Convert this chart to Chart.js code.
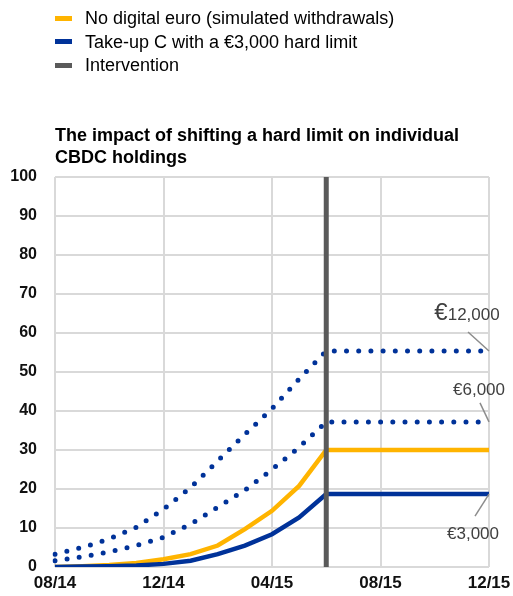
<!DOCTYPE html>
<html>
<head>
<meta charset="utf-8">
<script src="https://cdn.jsdelivr.net/npm/chart.js@4"></script>
<style>
  body { margin: 0; background: #fff; font-family: "Liberation Sans", Arial, sans-serif; }
  #wrap { position: relative; width: 513px; height: 596px; }
  #legend { position: absolute; left: 55px; top: 7px; font-size: 18px; color: #000; }
  .item { height: 23.5px; line-height: 23.5px; white-space: nowrap; }
  .mark { display: inline-block; width: 17px; height: 5px; vertical-align: middle; margin-right: 13px; position: relative; top: -1px; }
  #title { position: absolute; left: 55px; top: 124px; font-size: 18px; font-weight: bold; line-height: 22px; color: #000; }
  canvas { position: absolute; left: 0; top: 0; }
</style>
</head>
<body>
<div id="wrap">
  <canvas id="chart" width="513" height="596"></canvas>
  <div id="legend"></div>
  <div id="title">The impact of shifting a hard limit on individual<br>CBDC holdings</div>
</div>
<script>
// monthly labels 08/14 .. 12/15
var months = ['08/14','09/14','10/14','11/14','12/14','01/15','02/15','03/15','04/15',
              '05/15','06/15','07/15','08/15','09/15','10/15','11/15','12/15'];
var yTicks = [0, 10, 20, 30, 40, 50, 60, 70, 80, 90, 100];

// series values
var noDigitalEuro = [0, 0.2, 0.5, 1.0, 2.0, 3.3, 5.5, 9.7, 14.4, 20.8, 30, 30, 30, 30, 30, 30, 30];
var limit3000     = [0, 0.1, 0.2, 0.4, 0.8, 1.6, 3.3, 5.5, 8.4, 12.7, 18.7, 18.7, 18.7, 18.7, 18.7, 18.7, 18.7];
var limit6000     = [1.6, 2.6, 3.9, 5.5, 7.6, 11, 15.3, 19.7, 25, 30.7, 37.2, 37.2, 37.2, 37.2, 37.2, 37.2, 37.2];
var limit12000    = [3.3, 5, 7.2, 10.2, 14.8, 20.4, 27.2, 34, 40.6, 48.2, 55.4, 55.4, 55.4, 55.4, 55.4, 55.4, 55.4];
var interventionMonth = '06/15';

var legendItems = [
  { text: 'No digital euro (simulated withdrawals)', color: '#ffb400' },
  { text: 'Take-up C with a \u20ac3,000 hard limit', color: '#003299' },
  { text: 'Intervention', color: '#5a5a5a' }
];

var endLabels = [
  { text: '12,000', euroBig: true, value: limit12000[16], tx: -22, ty: -37, lx: -21, ly: -19 },
  { text: '\u20ac6,000', value: limit6000[16], tx: -10, ty: -32, lx: -9, ly: -19 },
  { text: '\u20ac3,000', value: limit3000[16], tx: -16, ty: 40, lx: -14, ly: 22 }
];

var lg = document.getElementById('legend');
legendItems.forEach(function (it) {
  var d = document.createElement('div');
  d.className = 'item';
  d.innerHTML = '<span class="mark" style="background:' + it.color + '"></span>' + it.text;
  lg.appendChild(d);
});

var endLabelPlugin = {
  id: 'endLabels',
  afterDatasetsDraw: function (chart) {
    var c = chart.ctx, xs = chart.scales.x, ys = chart.scales.y;
    var px = xs.getPixelForValue(months.length - 1);
    c.save();
    endLabels.forEach(function (l) {
      var py = ys.getPixelForValue(l.value);
      c.strokeStyle = '#8c8c8c';
      c.lineWidth = 1.5;
      c.beginPath();
      c.moveTo(px, py);
      c.lineTo(px + l.lx, py + l.ly);
      c.stroke();
      c.fillStyle = '#404040';
      c.textBaseline = 'middle';
      if (l.euroBig) {
        c.font = '24px "Liberation Sans", Arial';
        var ew = c.measureText('\u20ac').width;
        c.font = '17px "Liberation Sans", Arial';
        var tw = c.measureText(l.text).width;
        var x0 = px + l.tx - (ew + tw) / 2;
        c.textAlign = 'left';
        c.font = '24px "Liberation Sans", Arial';
        c.fillText('\u20ac', x0, py + l.ty - 1);
        c.font = '17px "Liberation Sans", Arial';
        c.fillText(l.text, x0 + ew, py + l.ty + 1);
      } else {
        c.font = '17px "Liberation Sans", Arial';
        c.textAlign = 'center';
        c.fillText(l.text, px + l.tx, py + l.ty);
      }
    });
    c.restore();
  }
};

var ctx = document.getElementById('chart');
var chart = new Chart(ctx, {
  type: 'line',
  data: {
    labels: months,
    datasets: [
      {
        label: 'Intervention',
        data: [{ x: interventionMonth, y: 0 }, { x: interventionMonth, y: 100 }],
        borderColor: '#5a5a5a',
        borderWidth: 5,
        pointRadius: 0,
        order: 0
      },
      {
        label: '\u20ac12,000',
        data: limit12000,
        borderColor: '#003299',
        borderWidth: 5,
        borderDash: [0, 12.2],
        borderCapStyle: 'round',
        pointRadius: 0,
        order: 3
      },
      {
        label: '\u20ac6,000',
        data: limit6000,
        borderColor: '#003299',
        borderWidth: 5,
        borderDash: [0, 12.2],
        borderCapStyle: 'round',
        pointRadius: 0,
        order: 3
      },
      {
        label: 'No digital euro (simulated withdrawals)',
        data: noDigitalEuro,
        borderColor: '#ffb400',
        borderWidth: 4.5,
        pointRadius: 0,
        order: 2
      },
      {
        label: 'Take-up C with a \u20ac3,000 hard limit',
        data: limit3000,
        borderColor: '#003299',
        borderWidth: 4.5,
        pointRadius: 0,
        order: 1
      }
    ]
  },
  options: {
    responsive: false,
    animation: false,
    layout: { padding: { top: 177, right: 24, left: 0, bottom: 0 } },
    plugins: {
      legend: { display: false },
      tooltip: { enabled: false }
    },
    scales: {
      x: {
        type: 'category',
        offset: false,
        border: { display: false },
        grid: {
          drawTicks: false,
          lineWidth: 2,
          color: function (c) { return c.index % 4 === 0 ? '#d9d9d9' : 'rgba(0,0,0,0)'; }
        },
        ticks: {
          autoSkip: false,
          maxRotation: 0,
          padding: 6,
          color: '#111',
          font: { size: 17, weight: 'bold', family: '"Liberation Sans", Arial' },
          callback: function (v, i) { return i % 4 === 0 ? months[i] : ''; }
        },
        afterFit: function (s) { s.height = 29; s.paddingLeft = 0; s.paddingRight = 0; }
      },
      y: {
        min: 0,
        max: 100,
        border: { display: false },
        grid: { drawTicks: false, lineWidth: 2, color: '#d9d9d9' },
        afterBuildTicks: function (s) { s.ticks = yTicks.map(function (v) { return { value: v }; }); },
        ticks: {
          padding: 18,
          color: '#111',
          font: { size: 16, weight: 'bold', family: '"Liberation Sans", Arial' }
        },
        afterFit: function (s) { s.width = 55; }
      }
    }
  },
  plugins: [endLabelPlugin]
});
</script>
</body>
</html>
